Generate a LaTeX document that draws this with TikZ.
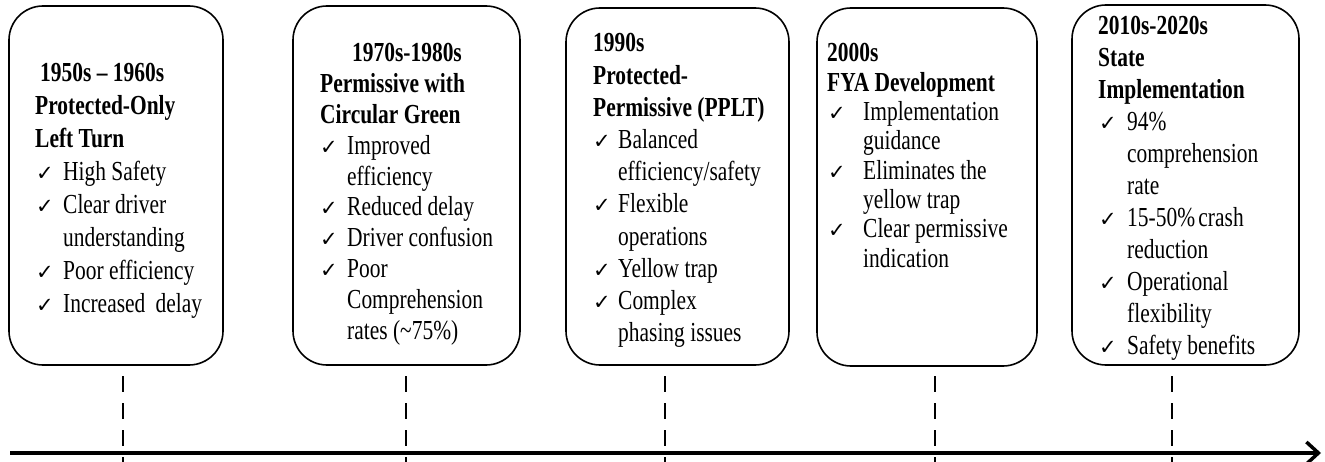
\documentclass[tikz,border=0pt]{standalone}
\usepackage{fontspec}
\setmainfont{Liberation Serif}[FakeStretch=0.78]
\newfontfamily\symfont{DejaVu Sans}
\usetikzlibrary{arrows.meta}
\newcommand\ck[1]{\makebox[#1][l]{\symfont\fontsize{21}{21}\selectfont ✓}}
\begin{document}
\begin{tikzpicture}[x=1pt,y=-1pt,
  box/.style={draw, line width=1.6pt, rounded corners=34pt, inner sep=0pt},
  txt/.style={inner sep=0pt, anchor=base west},
  tick/.style={line width=1.8pt, dash pattern=on 16pt off 11pt},
  axis/.style={line width=3.5pt, -{Straight Barb[length=12pt,width=22pt]}}]
\useasboundingbox (0,0) rectangle (1325,462);
% boxes
\node[box, minimum width=214pt, minimum height=359pt] (b1) at (116,185.5) {};
\node[box, minimum width=227pt, minimum height=359pt] (b2) at (406.5,185.5) {};
\node[box, minimum width=223pt, minimum height=357pt] (b3) at (677.5,186.5) {};
\node[box, minimum width=220pt, minimum height=358pt] (b4) at (927,187) {};
\node[box, minimum width=227pt, minimum height=360pt] (b5) at (1185.5,185) {};
% texts
\node[txt, font=\fontsize{27.5}{32.9}\selectfont] (t1) at (35,82) {\begin{tabular}[t]{@{}l@{}}
\hspace*{5pt}\textbf{1950s – 1960s}\\
\textbf{Protected-Only}\\
\textbf{Left Turn}\\
\hspace*{1pt}\ck{27pt}High Safety\\
\hspace*{1pt}\ck{27pt}Clear driver\\
\hspace*{28pt}understanding\\
\hspace*{1pt}\ck{27pt}Poor efficiency\\
\hspace*{1pt}\ck{27pt}Increased\hspace{5pt} delay
\end{tabular}};
\node[txt, font=\fontsize{27.5}{30.8}\selectfont] (t2) at (320,62) {\begin{tabular}[t]{@{}l@{}}
\hspace*{32pt}\textbf{1970s-1980s}\\
\textbf{Permissive with}\\
\textbf{Circular Green}\\
\ck{27pt}Improved\\
\hspace*{27pt}efficiency\\
\ck{27pt}Reduced delay\\
\ck{27pt}Driver confusion\\
\ck{27pt}Poor\\
\hspace*{27pt}Comprehension\\
\hspace*{27pt}rates (\textasciitilde75\%)
\end{tabular}};
\node[txt, font=\fontsize{27.5}{32.2}\selectfont] (t3) at (593,52) {\begin{tabular}[t]{@{}l@{}}
\textbf{1990s}\\
\textbf{Protected-}\\
\textbf{Permissive (PPLT)}\\
\ck{25pt}Balanced\\
\hspace*{25pt}efficiency/safety\\
\ck{25pt}Flexible\\
\hspace*{25pt}operations\\
\ck{25pt}Yellow trap\\
\ck{25pt}Complex\\
\hspace*{25pt}phasing issues
\end{tabular}};
\node[txt, font=\fontsize{27.5}{29.3}\selectfont] (t4) at (827,62) {\begin{tabular}[t]{@{}l@{}}
\textbf{2000s}\\
\textbf{FYA Development}\\
\hspace*{1pt}\ck{35pt}Implementation\\
\hspace*{36pt}guidance\\
\hspace*{1pt}\ck{35pt}Eliminates the\\
\hspace*{36pt}yellow trap\\
\hspace*{1pt}\ck{35pt}Clear permissive\\
\hspace*{36pt}indication
\end{tabular}};
\node[txt, font=\fontsize{27.5}{32}\selectfont] (t5) at (1098,35) {\begin{tabular}[t]{@{}l@{}}
\textbf{2010s-2020s}\\
\textbf{State}\\
\textbf{Implementation}\\
\hspace*{1pt}\ck{28pt}94\%\\
\hspace*{29pt}comprehension\\
\hspace*{29pt}rate\\
\hspace*{1pt}\ck{28pt}15-50\%\hspace{-2pt} crash\\
\hspace*{29pt}reduction\\
\hspace*{1pt}\ck{28pt}Operational\\
\hspace*{29pt}flexibility\\
\hspace*{1pt}\ck{28pt}Safety benefits
\end{tabular}};
% dashed ticks
\coordinate (d1a) at (123,376); \coordinate (d1b) at (123,462);
\coordinate (d2a) at (406,376); \coordinate (d2b) at (406,462);
\coordinate (d3a) at (665,376); \coordinate (d3b) at (665,462);
\coordinate (d4a) at (935,376); \coordinate (d4b) at (935,462);
\coordinate (d5a) at (1172,376); \coordinate (d5b) at (1172,462);
\draw[tick] (d1a) -- (d1b);
\draw[tick] (d2a) -- (d2b);
\draw[tick] (d3a) -- (d3b);
\draw[tick] (d4a) -- (d4b);
\draw[tick] (d5a) -- (d5b);
% time axis
\coordinate (as) at (10,453);
\coordinate (ae) at (1321,453);
\draw[axis] (as) -- (ae);
\end{tikzpicture}
\end{document}
